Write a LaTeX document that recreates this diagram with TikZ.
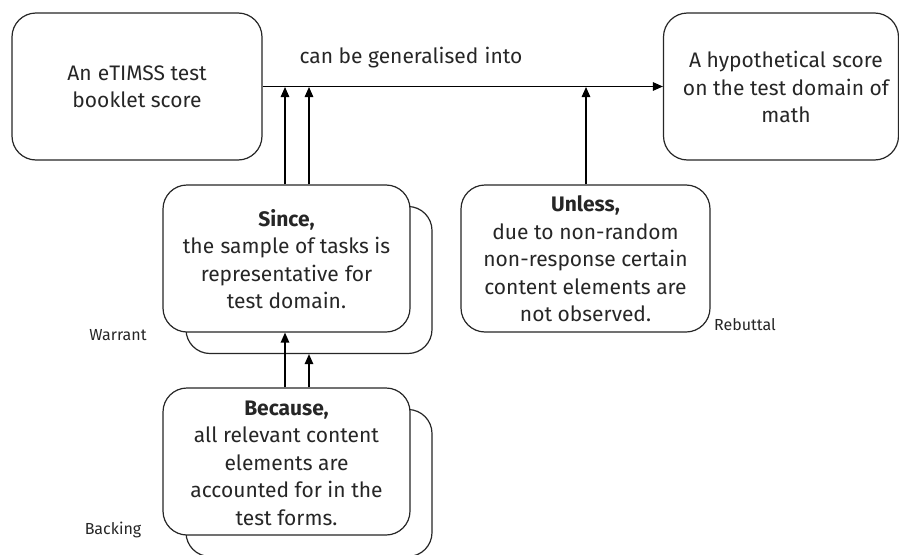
\documentclass[tikz,border=0pt]{standalone}
\usepackage{fontspec}
\setmainfont{Fira Sans}
\usetikzlibrary{arrows.meta,calc}
\newcommand{\xs}{\hspace{0.3em}}
\begin{document}
\begin{tikzpicture}[x=1pt,y=-1pt,
  box/.style={draw=black!85,line width=1.2pt,fill=white,rounded corners=24pt,minimum height=147pt,align=center,inner sep=0pt},
  txt/.style={font=\fontsize{21}{27.5}\selectfont,align=center,text=black!85},
  small/.style={font=\fontsize{16}{18}\selectfont,text=black!85},
  arr/.style={line width=1.3pt,-{Triangle[length=10pt,width=8.5pt]}}]
\useasboundingbox (0,0) rectangle (899,554);
% top boxes
\node[box,minimum width=250pt] (claimL) at (137,86.5) {};
\node[txt] (claimLt) at (137,87) {An\xs eTIMSS test\\booklet score};
\node[box,minimum width=235pt] (claimR) at (781,86.5) {};
\node[txt] (claimRt) at (786,87) {A hypothetical\xs score\\on the test domain of\\math};
% warrant stack
\node[box,minimum width=246pt] (sinceB) at (309,280) {};
\node[box,minimum width=247pt] (since) at (286.5,258.5) {};
\node[txt] (sincet) at (286.5,259) {\textbf{Since,}\\the\xs sample of tasks is\\representative\xs for\\test domain.};
% rebuttal
\node[box,minimum width=249pt] (unless) at (585.5,258.5) {};
\node[txt] (unlesst) at (585.5,259) {\textbf{Unless,}\\due to non-random\\non-response certain\\content elements are\\not observed.};
% backing stack
\node[box,minimum width=246pt] (becB) at (309,483) {};
\node[box,minimum width=247pt] (bec) at (286.5,461.5) {};
\node[txt] (bect) at (286.5,463) {\textbf{Because,}\\all relevant content\\elements are\\accounted for in the\\test forms.};
% labels
\node[small] (lw) at (118,335) {Warrant};
\node[small] (lr) at (745,325) {Rebuttal};
\node[small] (lb) at (113,530) {Backing};
\node[txt] (gen) at (411,58) {can be generalised\xs into};
% connectors
\coordinate (m1) at (285,87);
\coordinate (m2) at (309,87);
\coordinate (m3) at (586,87);
\draw[arr] (claimL.east) -- (claimR.west);
\draw[arr] (since.north -| m1) -- (m1);
\draw[arr] (since.north -| m2) -- (m2);
\draw[arr] (unless.north -| m3) -- (m3);
\draw[arr] (bec.north -| m1) -- (since.south -| m1);
\draw[arr] (bec.north -| m2) -- (sinceB.south -| m2);
\end{tikzpicture}
\end{document}
